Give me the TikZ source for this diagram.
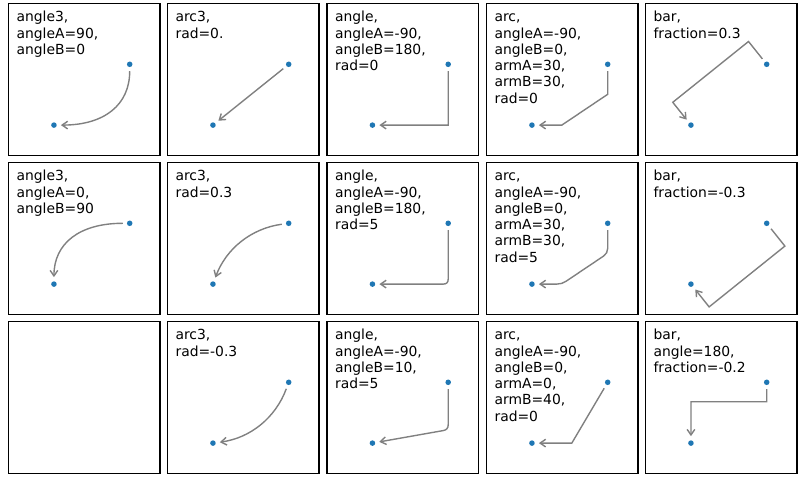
\documentclass[tikz,border=0pt]{standalone}
\usepackage{fontspec}
\setmainfont{DejaVu Sans}
\usetikzlibrary{arrows.meta}
\definecolor{mplblue}{HTML}{1F77B4}
\definecolor{arrowgray}{gray}{0.5}
\tikzset{
  frame/.style={draw=black, line width=0.75pt},
  dot/.style={circle, fill=mplblue, inner sep=0pt, minimum size=4pt},
  conn/.style={draw=arrowgray, line width=1pt, shorten <=5pt, shorten >=5pt,
               -{Straight Barb[length=4pt,width=5.5pt]}},
  lbl/.style={anchor=north west, inner sep=0pt, align=left,
              font=\fontsize{10}{11.7}\selectfont, yshift=8pt},
  panel/.style={xscale=0.9967}
}
\begin{document}
\begin{tikzpicture}[x=0.72pt,y=0.72pt]
\useasboundingbox (0,0) rectangle (800,480);
\fill[white] (0,0) rectangle (800,480);

% ---------- row 1 ----------
\begin{scope}[shift={(8.5,324.5)},panel]
\draw[frame] (0,0) rectangle (152,152);
\node[dot] (A11) at (121.6,91.2) {};
\node[dot] (B11) at (45.6,30.4) {};
\node[lbl] (T11) at (7.8,134) {\rule{0pt}{8pt}angle3,\\angleA=90,\\angleB=0};
\draw[conn] (A11.center) .. controls (121.6,50.67) and (96.27,30.4) .. (B11.center);
\end{scope}

\begin{scope}[shift={(167.5,324.5)},panel]
\draw[frame] (0,0) rectangle (152,152);
\node[dot] (A12) at (121.6,91.2) {};
\node[dot] (B12) at (45.6,30.4) {};
\node[lbl] (T12) at (7.8,134) {\rule{0pt}{8pt}arc3,\\rad=0.};
\draw[conn] (A12.center) -- (B12.center);
\end{scope}

\begin{scope}[shift={(327,324.5)},panel]
\draw[frame] (0,0) rectangle (152,152);
\node[dot] (A13) at (121.6,91.2) {};
\node[dot] (B13) at (45.6,30.4) {};
\node[lbl] (T13) at (7.8,134) {\rule{0pt}{8pt}angle,\\angleA=-90,\\angleB=180,\\rad=0};
\draw[conn] (A13.center) -- (121.6,30.4) -- (B13.center);
\end{scope}

\begin{scope}[shift={(486.5,324.5)},panel]
\draw[frame] (0,0) rectangle (152,152);
\node[dot] (A14) at (121.6,91.2) {};
\node[dot] (B14) at (45.6,30.4) {};
\node[lbl] (T14) at (7.8,134) {\rule{0pt}{8pt}arc,\\angleA=-90,\\angleB=0,\\armA=30,\\armB=30,\\rad=0};
\draw[conn] (A14.center) -- (121.6,61.2) -- (75.6,30.4) -- (B14.center);
\end{scope}

\begin{scope}[shift={(645.5,324.5)},panel]
\draw[frame] (0,0) rectangle (152,152);
\node[dot] (A15) at (121.6,91.2) {};
\node[dot] (B15) at (45.6,30.4) {};
\node[lbl] (T15) at (7.8,134) {\rule{0pt}{8pt}bar,\\fraction=0.3};
\draw[conn] (A15.center) -- (103.36,114.0) -- (27.36,53.2) -- (B15.center);
\end{scope}

% ---------- row 2 ----------
\begin{scope}[shift={(8.5,165.5)},panel]
\draw[frame] (0,0) rectangle (152,152);
\node[dot] (A21) at (121.6,91.2) {};
\node[dot] (B21) at (45.6,30.4) {};
\node[lbl] (T21) at (7.8,134) {\rule{0pt}{8pt}angle3,\\angleA=0,\\angleB=90};
\draw[conn] (A21.center) .. controls (70.93,91.2) and (45.6,70.93) .. (B21.center);
\end{scope}

\begin{scope}[shift={(167.5,165.5)},panel]
\draw[frame] (0,0) rectangle (152,152);
\node[dot] (A22) at (121.6,91.2) {};
\node[dot] (B22) at (45.6,30.4) {};
\node[lbl] (T22) at (7.8,134) {\rule{0pt}{8pt}arc3,\\rad=0.3};
\draw[conn] (A22.center) .. controls (84.11,86.13) and (58.77,65.87) .. (B22.center);
\end{scope}

\begin{scope}[shift={(327,165.5)},panel]
\draw[frame] (0,0) rectangle (152,152);
\node[dot] (A23) at (121.6,91.2) {};
\node[dot] (B23) at (45.6,30.4) {};
\node[lbl] (T23) at (7.8,134) {\rule{0pt}{8pt}angle,\\angleA=-90,\\angleB=180,\\rad=5};
\draw[conn] (A23.center) -- (121.6,35.4) .. controls (121.6,32.07) and (119.93,30.4) .. (116.6,30.4) -- (B23.center);
\end{scope}

\begin{scope}[shift={(486.5,165.5)},panel]
\draw[frame] (0,0) rectangle (152,152);
\node[dot] (A24) at (121.6,91.2) {};
\node[dot] (B24) at (45.6,30.4) {};
\node[lbl] (T24) at (7.8,134) {\rule{0pt}{8pt}arc,\\angleA=-90,\\angleB=0,\\armA=30,\\armB=30,\\rad=5};
\draw[conn] (A24.center) -- (121.6,66.2) .. controls (121.6,62.87) and (120.22,60.27) .. (117.45,58.42)
  -- (79.755,33.182) .. controls (76.985,31.327) and (73.93,30.4) .. (70.6,30.4) -- (B24.center);
\end{scope}

\begin{scope}[shift={(645.5,165.5)},panel]
\draw[frame] (0,0) rectangle (152,152);
\node[dot] (A25) at (121.6,91.2) {};
\node[dot] (B25) at (45.6,30.4) {};
\node[lbl] (T25) at (7.8,134) {\rule{0pt}{8pt}bar,\\fraction=-0.3};
\draw[conn] (A25.center) -- (139.84,68.4) -- (63.84,7.6) -- (B25.center);
\end{scope}

% ---------- row 3 ----------
\begin{scope}[shift={(8.5,6.5)},panel]
\draw[frame] (0,0) rectangle (152,152);
\end{scope}

\begin{scope}[shift={(167.5,6.5)},panel]
\draw[frame] (0,0) rectangle (152,152);
\node[dot] (A32) at (121.6,91.2) {};
\node[dot] (B32) at (45.6,30.4) {};
\node[lbl] (T32) at (7.8,134) {\rule{0pt}{8pt}arc3,\\rad=-0.3};
\draw[conn] (A32.center) .. controls (108.43,55.73) and (83.09,35.47) .. (B32.center);
\end{scope}

\begin{scope}[shift={(327,6.5)},panel]
\draw[frame] (0,0) rectangle (152,152);
\node[dot] (A33) at (121.6,91.2) {};
\node[dot] (B33) at (45.6,30.4) {};
\node[lbl] (T33) at (7.8,134) {\rule{0pt}{8pt}angle,\\angleA=-90,\\angleB=10,\\rad=5};
\draw[conn] (A33.center) -- (121.6,48.80) .. controls (121.6,45.47) and (119.96,43.51) .. (116.68,42.93) -- (B33.center);
\end{scope}

\begin{scope}[shift={(486.5,6.5)},panel]
\draw[frame] (0,0) rectangle (152,152);
\node[dot] (A34) at (121.6,91.2) {};
\node[dot] (B34) at (45.6,30.4) {};
\node[lbl] (T34) at (7.8,134) {\rule{0pt}{8pt}arc,\\angleA=-90,\\angleB=0,\\armA=0,\\armB=40,\\rad=0};
\draw[conn] (A34.center) -- (85.6,30.4) -- (B34.center);
\end{scope}

\begin{scope}[shift={(645.5,6.5)},panel]
\draw[frame] (0,0) rectangle (152,152);
\node[dot] (A35) at (121.6,91.2) {};
\node[dot] (B35) at (45.6,30.4) {};
\node[lbl] (T35) at (7.8,134) {\rule{0pt}{8pt}bar,\\angle=180,\\fraction=-0.2};
\draw[conn] (A35.center) -- (121.6,71.73) -- (45.6,71.73) -- (B35.center);
\end{scope}

\end{tikzpicture}
\end{document}
